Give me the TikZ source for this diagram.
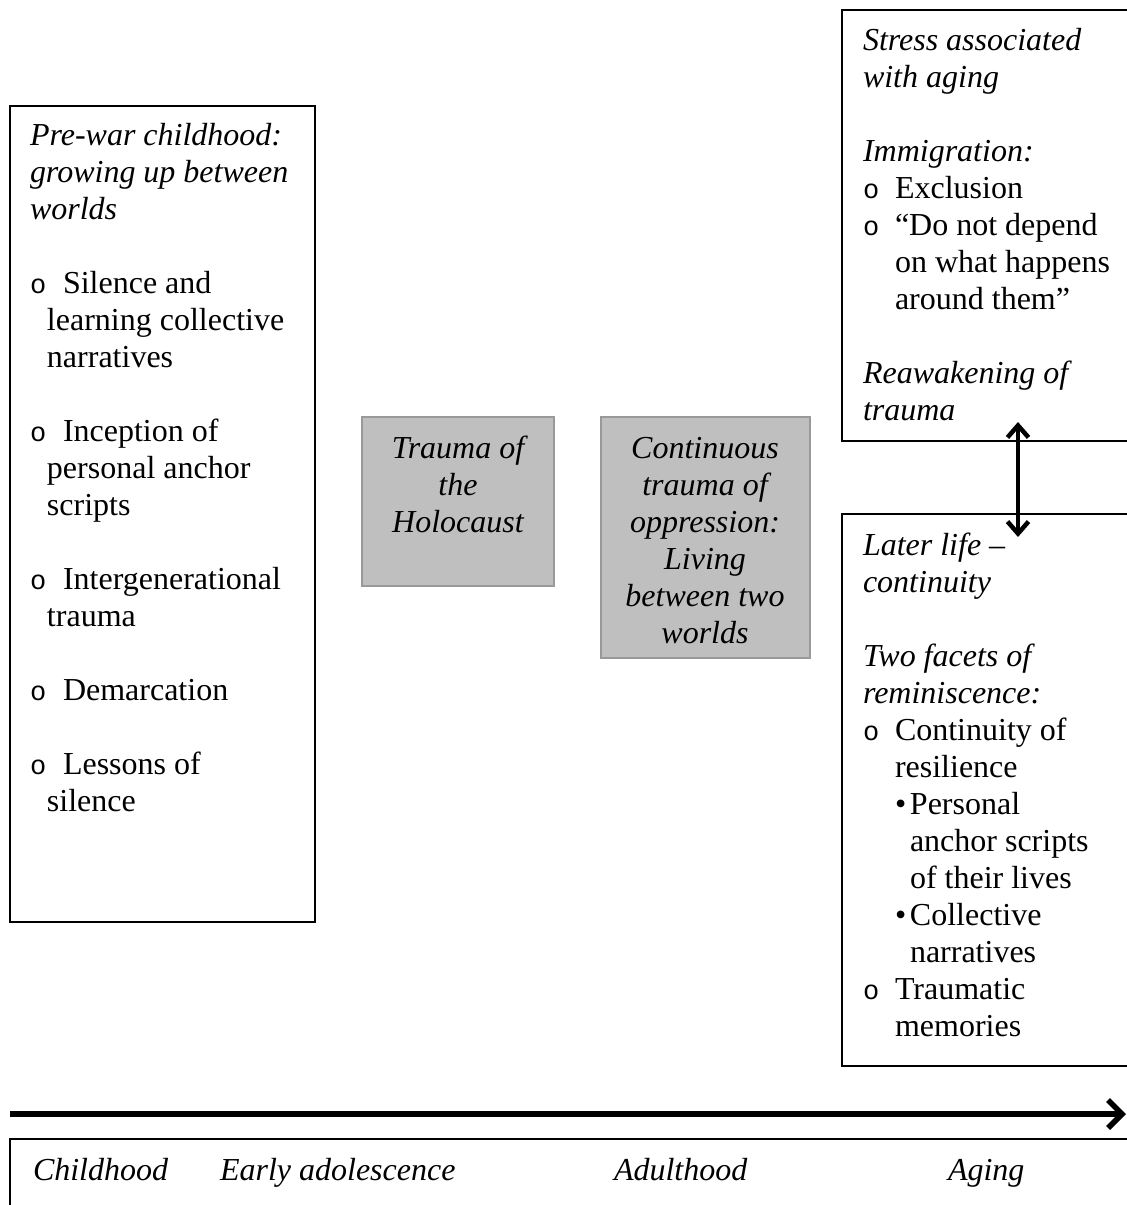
\documentclass[tikz,border=0pt]{standalone}
\usepackage{fontspec}
\setmainfont{Liberation Serif}
\newfontfamily\bulfont{Liberation Mono}
\usetikzlibrary{arrows.meta}
\newcommand{\bulo}{{\bulfont\fontsize{27}{27}\selectfont o}}
\newcommand{\bulf}{\textbullet}
\begin{document}
\begin{tikzpicture}[x=1pt,y=-1pt,
  every node/.style={font=\fontsize{32}{37}\selectfont, inner sep=0pt, outer sep=0pt},
  frame/.style={draw=black, line width=1.4pt, anchor=north west},
  graybox/.style={draw=black!40, fill=black!25, line width=1.4pt, anchor=north west},
  txt/.style={anchor=base west, align=flush left, text width=#1},
  ctxt/.style={anchor=base, align=flush center, text width=#1},
  dbl/.style={line width=4.5pt, {Straight Barb[length=12pt,width=21pt]}-{Straight Barb[length=12pt,width=21pt]}},
  time/.style={line width=5.5pt, -{Straight Barb[length=14pt,width=28pt]}}
  ]
\useasboundingbox (0,0) rectangle (1127,1205);
\fill[white] (0,0) rectangle (1127,1205);

% boxes
\node[frame, minimum width=305pt, minimum height=816pt] (left) at (10,106) {};
\node[graybox, minimum width=192pt, minimum height=169pt] (holo) at (362,417) {};
\node[graybox, minimum width=209pt, minimum height=241pt] (oppr) at (601,417) {};
\node[frame, minimum width=300pt, minimum height=431pt] (stress) at (842,10) {};
\node[frame, minimum width=300pt, minimum height=552pt] (later) at (842,514) {};
\node[frame, minimum width=1135pt, minimum height=90pt] (ages) at (10,1139) {};

% left box text
\node[txt=300pt] (lefttext) at (30,145) {%
\textit{Pre-war childhood:}\\
\textit{growing up between}\\
\textit{worlds}\\[37pt]
\makebox[33pt][l]{\bulo}Silence and\\
\hspace*{17pt}learning collective\\
\hspace*{17pt}narratives\\[37pt]
\makebox[33pt][l]{\bulo}Inception of\\
\hspace*{17pt}personal anchor\\
\hspace*{17pt}scripts\\[37pt]
\makebox[33pt][l]{\bulo}Intergenerational\\
\hspace*{17pt}trauma\\[37pt]
\makebox[33pt][l]{\bulo}Demarcation\\[37pt]
\makebox[33pt][l]{\bulo}Lessons of\\
\hspace*{17pt}silence};

% gray boxes text
\node[ctxt=190pt] (holotext) at (458,458) {\itshape Trauma of\\ the\\ Holocaust};
\node[ctxt=205pt] (opprtext) at (705,458) {\itshape Continuous\\ trauma of\\ oppression:\\ Living\\ between two\\ worlds};

% top right text
\node[txt=270pt] (stresstext) at (863,50) {%
\textit{Stress associated}\\
\textit{with aging}\\[37pt]
\textit{Immigration:}\\
\makebox[32pt][l]{\bulo}Exclusion\\
\makebox[32pt][l]{\bulo}``Do not depend\\
\hspace*{32pt}on what happens\\
\hspace*{32pt}around them''\\[37pt]
\textit{Reawakening of}\\
\textit{trauma}};

% lower right text
\node[txt=270pt] (latertext) at (863,555) {%
\textit{Later life --}\\
\textit{continuity}\\[37pt]
\textit{Two facets of}\\
\textit{reminiscence:}\\
\makebox[32pt][l]{\bulo}Continuity of\\
\hspace*{32pt}resilience\\
\hspace*{32pt}\makebox[15pt][l]{\bulf}Personal\\
\hspace*{47pt}anchor scripts\\
\hspace*{47pt}of their lives\\
\hspace*{32pt}\makebox[15pt][l]{\bulf}Collective\\
\hspace*{47pt}narratives\\
\makebox[32pt][l]{\bulo}Traumatic\\
\hspace*{32pt}memories};

% double arrow
\coordinate (up) at (1018,422);
\coordinate (down) at (1018,537);
\draw[dbl] (up) -- (down);

% timeline
\coordinate (t0) at (10,1114);
\coordinate (t1) at (1126,1114);
\draw[time] (t0) -- (t1);

% ages
\node[anchor=base west] (childhood) at (33,1180) {\itshape Childhood};
\node[anchor=base west] (early) at (220,1180) {\itshape Early adolescence};
\node[anchor=base west] (adult) at (614,1180) {\itshape Adulthood};
\node[anchor=base west] (aging) at (948,1180) {\itshape Aging};
\end{tikzpicture}
\end{document}
